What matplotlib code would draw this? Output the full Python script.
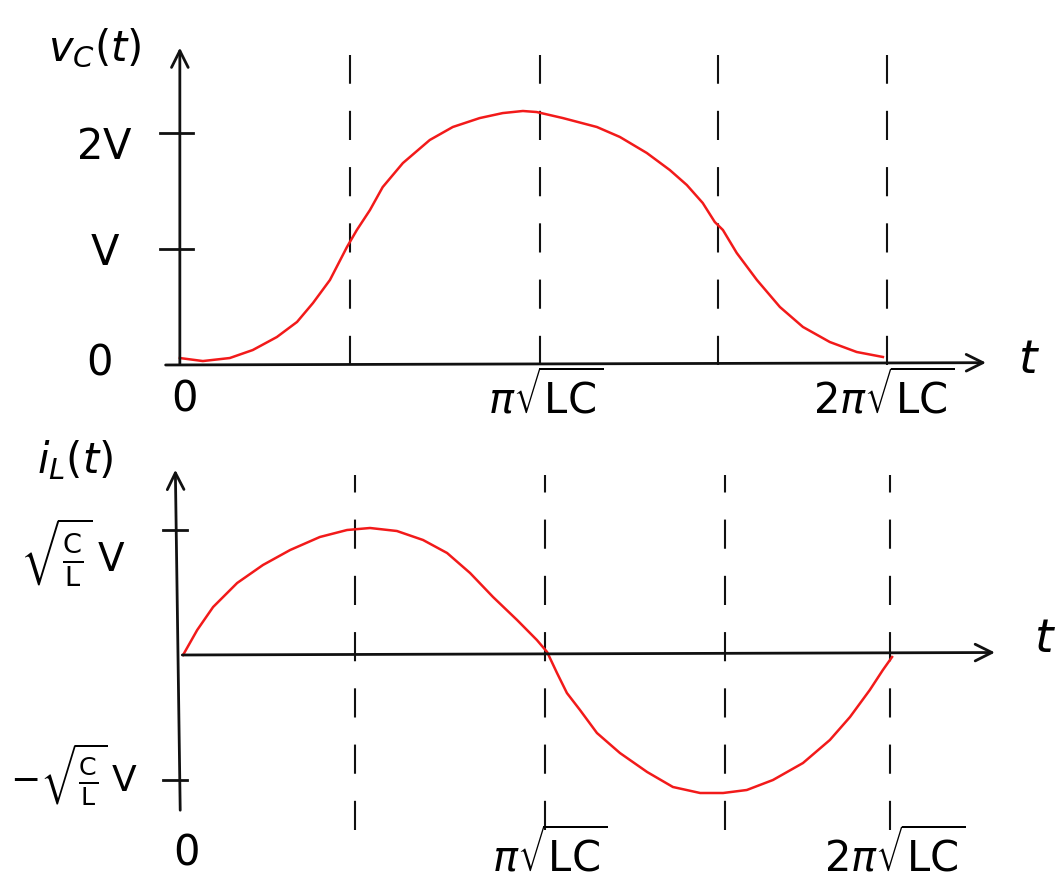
import matplotlib
matplotlib.use("Agg")
import matplotlib.pyplot as plt

# t in units of pi*sqrt(LC)
# v_C(t) in units of V
t_v = [0.0, 0.065, 0.141, 0.206, 0.274, 0.331, 0.376, 0.424, 0.472, 0.500, 0.537,
       0.573, 0.630, 0.706, 0.771, 0.847, 0.912, 0.969, 1.008, 1.082, 1.178, 1.243,
       1.319, 1.384, 1.432, 1.477, 1.511, 1.534, 1.573, 1.630, 1.695, 1.760, 1.836,
       1.912, 1.986]
v_c = [0.06, 0.034, 0.06, 0.129, 0.241, 0.371, 0.534, 0.733, 1.017, 1.164, 1.336,
       1.534, 1.741, 1.940, 2.052, 2.129, 2.172, 2.190, 2.181, 2.129, 2.052, 1.966,
       1.828, 1.681, 1.552, 1.397, 1.233, 1.164, 0.966, 0.733, 0.500, 0.328, 0.198,
       0.112, 0.069]

# i_L(t) in units of sqrt(C/L)*V
t_i = [0.0, 0.040, 0.085, 0.153, 0.226, 0.303, 0.387, 0.464, 0.529, 0.605, 0.679,
       0.747, 0.812, 0.877, 0.945, 1.001, 1.030, 1.058, 1.086, 1.123, 1.171, 1.236,
       1.313, 1.386, 1.463, 1.528, 1.595, 1.669, 1.754, 1.830, 1.887, 1.943, 1.980,
       2.006]
i_l = [0.0, 0.20, 0.384, 0.576, 0.72, 0.84, 0.944, 1.0, 1.016, 0.992, 0.92,
       0.816, 0.656, 0.464, 0.28, 0.12, 0.024, -0.144, -0.304, -0.44, -0.624, -0.784,
       -0.936, -1.056, -1.104, -1.104, -1.08, -1.0, -0.864, -0.68, -0.496, -0.28, -0.12,
       -0.016]

# dashed guide lines (t positions)
dash_top = [0.48, 1.017, 1.52, 1.997]
dash_bot = [0.487, 1.024, 1.533, 2.0]

# y ticks
ticks_top = [1, 2]
ticks_bot = [1, -1]

red = "#f21a1a"
ink = "#111111"
fs = 30

fig = plt.figure(figsize=(10.61, 8.84), dpi=100)
top = fig.add_axes([0, 0.5, 1, 0.5])
bot = fig.add_axes([0, 0, 1, 0.5])

top.set_xlim(-0.508, 2.489)
top.set_ylim(-0.664, 3.147)
bot.set_xlim(-0.518, 2.484)
bot.set_ylim(-1.832, 1.704)
for ax in (top, bot):
    ax.axis("off")

arrow = dict(arrowstyle="->", color=ink, lw=2.0, mutation_scale=30)

# ---- top: capacitor voltage
top.annotate("", xy=(0, 2.76), xytext=(0, -0.02), arrowprops=arrow)
top.annotate("", xy=(2.285, 0.02), xytext=(-0.048, 0), arrowprops=arrow)
for yt in ticks_top:
    top.plot([-0.056, 0.037], [yt, yt], color=ink, lw=2.0)
for xd in dash_top:
    top.plot([xd, xd], [0, 2.67], color=ink, lw=1.5, linestyle=(0, (14, 13)))
top.plot(t_v, v_c, color=red, lw=1.8, solid_joinstyle="round")

top.text(-0.212, 1.88, r"$2\mathrm{V}$", fontsize=fs, ha="center", va="center")
top.text(-0.212, 0.966, r"$\mathrm{V}$", fontsize=fs, ha="center", va="center")
top.text(-0.226, 0.017, "0", fontsize=fs, ha="center", va="center")
top.text(0.014, -0.30, "0", fontsize=fs, ha="center", va="center")
top.text(1.034, -0.276, r"$\pi\sqrt{\mathrm{LC}}$", fontsize=fs, ha="center", va="center")
top.text(1.989, -0.276, r"$2\pi\sqrt{\mathrm{LC}}$", fontsize=fs, ha="center", va="center")
top.text(2.40, 0.043, r"$t$", fontsize=fs + 4, ha="center", va="center")
top.text(-0.24, 2.73, r"$v_C(t)$", fontsize=fs, ha="center", va="center")

# ---- bottom: inductor current
bot.annotate("", xy=(-0.022, 1.504), xytext=(-0.008, -1.264), arrowprops=arrow)
bot.annotate("", xy=(2.305, 0.02), xytext=(-0.01, 0), arrowprops=arrow)
for yt in ticks_bot:
    bot.plot([-0.057, 0.011], [yt, yt], color=ink, lw=2.0)
for xd in dash_bot:
    bot.plot([xd, xd], [-1.4, 1.44], color=ink, lw=1.5, linestyle=(0, (14, 13)))
bot.plot(t_i, i_l, color=red, lw=1.8, solid_joinstyle="round")

bot.text(-0.311, 0.816, r"$\sqrt{\frac{\mathrm{C}}{\mathrm{L}}}\,\mathrm{V}$", fontsize=fs - 2,
         ha="center", va="center")
bot.text(-0.31, -0.96, r"$-\sqrt{\frac{\mathrm{C}}{\mathrm{L}}}\,\mathrm{V}$", fontsize=fs - 4,
         ha="center", va="center")
bot.text(0.011, -1.584, "0", fontsize=fs, ha="center", va="center")
bot.text(1.038, -1.6, r"$\pi\sqrt{\mathrm{LC}}$", fontsize=fs, ha="center", va="center")
bot.text(2.014, -1.6, r"$2\pi\sqrt{\mathrm{LC}}$", fontsize=fs, ha="center", va="center")
bot.text(2.44, 0.12, r"$t$", fontsize=fs + 4, ha="center", va="center")
bot.text(-0.305, 1.56, r"$i_L(t)$", fontsize=fs, ha="center", va="center")

fig.savefig("out.png", dpi=100)
